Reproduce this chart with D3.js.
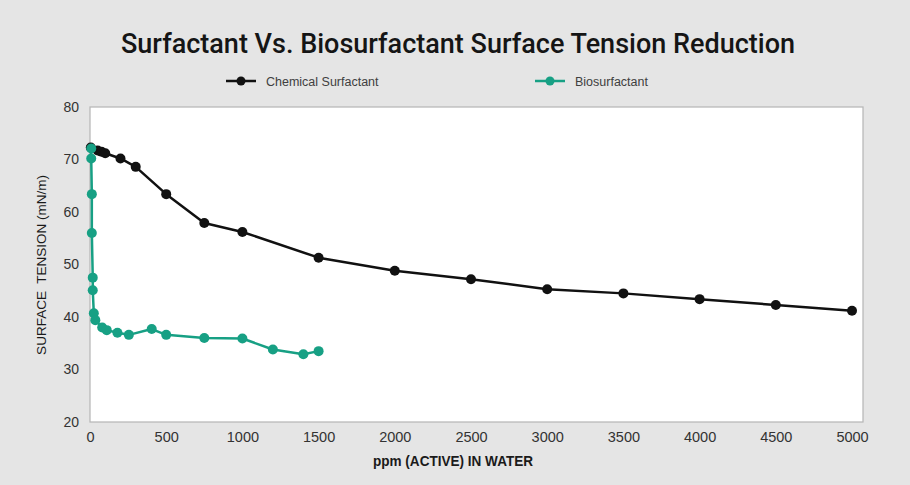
<!DOCTYPE html>
<html>
<head>
<meta charset="utf-8">
<script src="https://cdn.jsdelivr.net/npm/d3@7"></script>
<style>
  body { margin: 0; background: #e5e5e5; }
  text { font-family: "Liberation Sans", Arial, sans-serif; }
</style>
</head>
<body>
<div id="chart"></div>
<script>
// data
var chemX = [5, 50, 75, 100, 200, 300, 500, 750, 1000, 1500, 2000, 2500, 3000, 3500, 4000, 4500, 5000];
var chemY = [72.3, 71.7, 71.5, 71.2, 70.2, 68.6, 63.4, 57.9, 56.2, 51.3, 48.8, 47.2, 45.3, 44.5, 43.4, 42.3, 41.2];
var bioX = [8, 8, 12, 12, 18, 18, 25, 35, 80, 110, 180, 255, 405, 500, 750, 1000, 1200, 1400, 1500];
var bioY = [72.1, 70.2, 63.4, 56.0, 47.5, 45.1, 40.7, 39.4, 38.0, 37.5, 37.0, 36.6, 37.7, 36.6, 36.0, 35.9, 33.8, 32.9, 33.5];
var xTicks = [0, 500, 1000, 1500, 2000, 2500, 3000, 3500, 4000, 4500, 5000];
var yTicks = [20, 30, 40, 50, 60, 70, 80];
var seriesNames = ["Chemical Surfactant", "Biosurfactant"];
var seriesColors = ["#111111", "#17a084"];

var W = 910, H = 485;
var pLeft = 90, pRight = 863, pTop = 107, pBottom = 422;

var svg = d3.select("#chart").append("svg")
    .attr("width", W)
    .attr("height", H);

svg.append("rect")
    .attr("width", W)
    .attr("height", H)
    .attr("fill", "#e5e5e5");

var x = d3.scaleLinear().domain([0, 5000]).range([pLeft, 852]);
var y = d3.scaleLinear().domain([20, 80]).range([pBottom, pTop]);

// plot area
svg.append("rect")
    .attr("x", pLeft)
    .attr("y", pTop)
    .attr("width", pRight - pLeft)
    .attr("height", pBottom - pTop)
    .attr("fill", "#ffffff")
    .attr("stroke", "#b5b5b5")
    .attr("stroke-width", 1.2);

//TITLE
svg.append("text")
    .attr("x", 458)
    .attr("y", 53)
    .attr("text-anchor", "middle")
    .style("font-family", "Roboto, 'Liberation Sans', sans-serif")
    .style("font-weight", "500")
    .style("font-size", "28px")
    .style("fill", "#151515")
    .attr("textLength", 674)
    .attr("lengthAdjust", "spacingAndGlyphs")
    .text("Surfactant Vs. Biosurfactant Surface Tension Reduction");

//LEGEND
var legendX = [226, 535];
seriesNames.forEach(function (name, i) {
  var lx = legendX[i];
  svg.append("line")
      .attr("x1", lx).attr("x2", lx + 30)
      .attr("y1", 81).attr("y2", 81)
      .attr("stroke", seriesColors[i])
      .attr("stroke-width", 2.5);
  svg.append("circle")
      .attr("cx", lx + 15).attr("cy", 81)
      .attr("r", 4.5)
      .attr("fill", seriesColors[i]);
  svg.append("text")
      .attr("x", lx + 40)
      .attr("y", 85.5)
      .style("font-size", "12.5px")
      .style("fill", "#404040")
      .text(name);
});

//AXES
var xAxis = svg.append("g")
    .attr("transform", "translate(0," + pBottom + ")")
    .call(d3.axisBottom(x).tickValues(xTicks).tickFormat(d3.format("d")).tickSize(0).tickPadding(10));
xAxis.select(".domain").remove();
xAxis.selectAll("text")
    .style("font-size", "14.5px")
    .style("font-family", "'Liberation Sans', Arial, sans-serif")
    .style("fill", "#333");

var yAxis = svg.append("g")
    .attr("transform", "translate(" + 79 + ",0)")
    .call(d3.axisLeft(y).tickValues(yTicks).tickFormat(d3.format("d")).tickSize(0).tickPadding(0));
yAxis.select(".domain").remove();
yAxis.selectAll("text")
    .style("font-size", "14px")
    .style("font-family", "'Liberation Sans', Arial, sans-serif")
    .style("fill", "#333");

svg.append("text")
    .attr("x", 453)
    .attr("y", 466)
    .attr("text-anchor", "middle")
    .style("font-size", "14px")
    .style("font-weight", "bold")
    .style("fill", "#1a1a1a")
    .attr("textLength", 160)
    .attr("lengthAdjust", "spacingAndGlyphs")
    .text("ppm (ACTIVE) IN WATER");

svg.append("text")
    .attr("transform", "translate(46,265) rotate(-90)")
    .attr("text-anchor", "middle")
    .style("font-size", "13.5px")
    .style("fill", "#1a1a1a")
    .style("white-space", "pre")
    .attr("xml:space", "preserve")
    .text("SURFACE  TENSION (mN/m)");

//SERIES
var line = d3.line()
    .x(function (d) { return x(d[0]); })
    .y(function (d) { return y(d[1]); });

var series = [d3.zip(chemX, chemY), d3.zip(bioX, bioY)];

series.forEach(function (pts, i) {
  svg.append("path")
      .datum(pts)
      .attr("d", line)
      .attr("fill", "none")
      .attr("stroke", seriesColors[i])
      .attr("stroke-width", 2.5)
      .attr("stroke-linejoin", "round");
  svg.selectAll(".pt" + i)
      .data(pts)
      .enter()
      .append("circle")
      .attr("class", "pt" + i)
      .attr("cx", function (d) { return x(d[0]); })
      .attr("cy", function (d) { return y(d[1]); })
      .attr("r", 5)
      .attr("fill", seriesColors[i]);
});
</script>
</body>
</html>
